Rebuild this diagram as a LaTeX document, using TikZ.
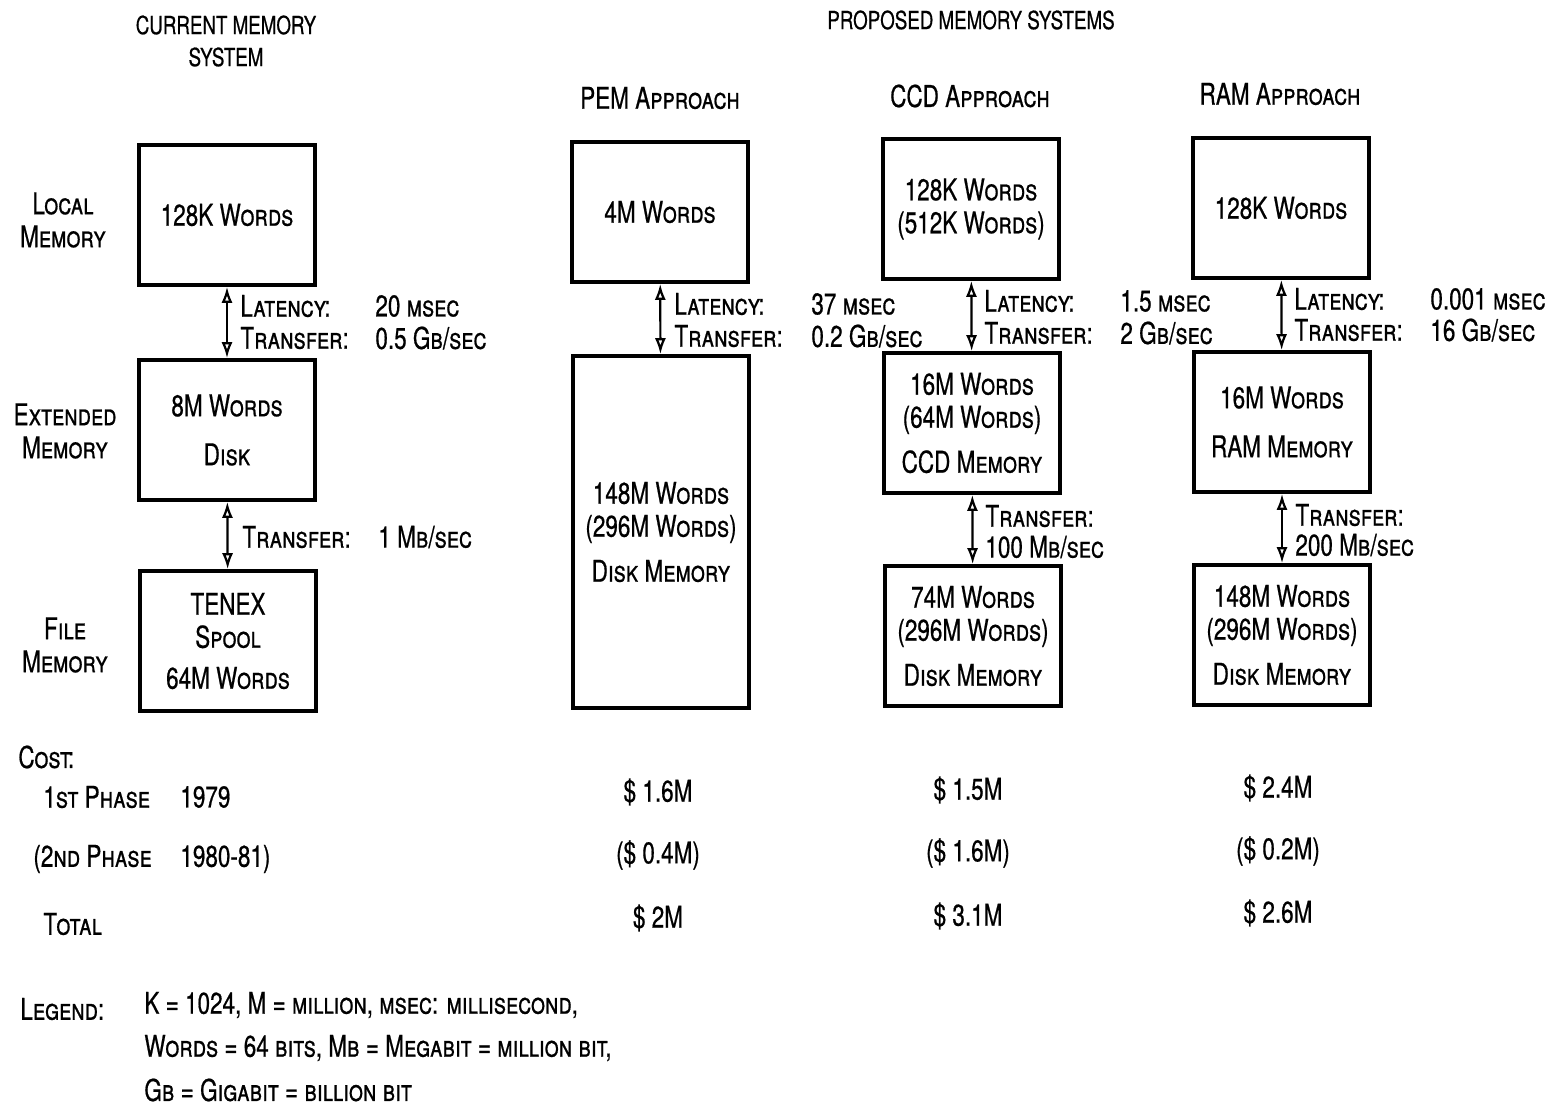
\documentclass[tikz,border=0pt]{standalone}
\usepackage{fontspec}
\setmainfont{TeX Gyre Heros}[FakeStretch=0.75, FakeBold=0.6]
\usetikzlibrary{arrows.meta}

\begin{document}
\begin{tikzpicture}[x=0.5pt, y=-0.5pt,
  every node/.style={font=\fontsize{15}{16.5}\selectfont},
  membox/.style={draw, line width=1.8pt, minimum width=88pt, minimum height=70pt, align=center, inner sep=0pt},
  txt/.style={anchor=west, inner sep=0pt},
  rowlbl/.style={align=center, inner sep=0pt},
  hdr/.style={align=center, inner sep=0pt, font=\fontsize{12.5}{16}\selectfont},
  link/.style={{Latex[open,length=8pt,width=5.5pt]}-{Latex[open,length=8pt,width=5.5pt]}, line width=1.1pt}]
  \useasboundingbox (0,0) rectangle (1564,1108);

  % 标题
  \node[hdr] (tcur) at (226,41) {CURRENT MEMORY\\SYSTEM};
  \node[hdr] (tprop) at (971,20) {PROPOSED MEMORY SYSTEMS};
  \node[inner sep=0pt] (tpem) at (660,98) {PEM \textsc{Approach}};
  \node[inner sep=0pt] (tccd) at (970,96) {CCD \textsc{Approach}};
  \node[inner sep=0pt] (tram) at (1280,94) {RAM \textsc{Approach}};

  % 行标签
  \node[rowlbl] (rlocal) at (63,220) {\textsc{Local}\\\textsc{Memory}};
  \node[rowlbl] (rext) at (65,431) {\textsc{Extended}\\\textsc{Memory}};
  \node[rowlbl] (rfile) at (65,645) {\textsc{File}\\\textsc{Memory}};

  % 当前系统
  \node[membox] (cl) at (227,215) {128K \textsc{Words}};
  \node[membox] (ce) at (227,430) {8M \textsc{Words}\\[8pt]\textsc{Disk}};
  \node[membox] (cf) at (228,641) {TENEX\\\textsc{Spool}\\[4pt]64M \textsc{Words}};
  \draw[link] (cl) -- (ce);
  \draw[link] (ce) -- (cf);
  \node[txt] (cl1) at (240,306) {\textsc{Latency:}};
  \node[txt] (cl2) at (375,306) {20 \textsc{msec}};
  \node[txt] (ct1) at (240,338) {\textsc{Transfer:}};
  \node[txt] (ct2) at (375,338) {0.5 \textsc{Gb/sec}};
  \node[txt] (ct3) at (242,537) {\textsc{Transfer:}};
  \node[txt] (ct4) at (378,537) {1 \textsc{Mb/sec}};

  % PEM
  \node[membox] (pl) at (660,212) {4M \textsc{Words}};
  \node[membox, minimum height=176pt] (pd) at (661,532) {148M \textsc{Words}\\(296M \textsc{Words})\\[6pt]\textsc{Disk Memory}};
  \draw[link] (pl) -- (pd);
  \node[txt] (pl1) at (674,304) {\textsc{Latency:}};
  \node[txt] (pl2) at (811,304) {37 \textsc{msec}};
  \node[txt] (pt1) at (674,336) {\textsc{Transfer:}};
  \node[txt] (pt2) at (811,336) {0.2 \textsc{Gb/sec}};

  % CCD
  \node[membox] (ql) at (971,209) {128K \textsc{Words}\\(512K \textsc{Words})};
  \node[membox] (qe) at (972,423) {16M \textsc{Words}\\(64M \textsc{Words})\\[6pt]CCD \textsc{Memory}};
  \node[membox] (qd) at (973,636) {74M \textsc{Words}\\(296M \textsc{Words})\\[6pt]\textsc{Disk Memory}};
  \draw[link] (ql) -- (qe);
  \draw[link] (qe) -- (qd);
  \node[txt] (ql1) at (984,301) {\textsc{Latency:}};
  \node[txt] (ql2) at (1120,301) {1.5 \textsc{msec}};
  \node[txt] (qt1) at (984,333) {\textsc{Transfer:}};
  \node[txt] (qt2) at (1120,333) {2 \textsc{Gb/sec}};
  \node[txt] (qt3) at (985,516) {\textsc{Transfer:}};
  \node[txt] (qt4) at (985,547) {100 \textsc{Mb/sec}};

  % RAM
  \node[membox] (rl) at (1281,208) {128K \textsc{Words}};
  \node[membox] (re) at (1282,422) {16M \textsc{Words}\\[8pt]RAM \textsc{Memory}};
  \node[membox] (rd) at (1282,635) {148M \textsc{Words}\\(296M \textsc{Words})\\[6pt]\textsc{Disk Memory}};
  \draw[link] (rl) -- (re);
  \draw[link] (re) -- (rd);
  \node[txt] (rl1) at (1294,299) {\textsc{Latency:}};
  \node[txt] (rl2) at (1430,299) {0.001 \textsc{msec}};
  \node[txt] (rt1) at (1294,330) {\textsc{Transfer:}};
  \node[txt] (rt2) at (1430,330) {16 \textsc{Gb/sec}};
  \node[txt] (rt3) at (1295,515) {\textsc{Transfer:}};
  \node[txt] (rt4) at (1295,545) {200 \textsc{Mb/sec}};

  % 费用
  \node[txt] (cost) at (18,757) {\textsc{Cost:}};
  \node[txt] (ph1) at (43,797) {\textsc{1st Phase}};
  \node[txt] (ph1y) at (180,797) {1979};
  \node[txt] (ph2) at (33,859) {(\textsc{2nd Phase}};
  \node[txt] (ph2y) at (180,859) {1980-81)};
  \node[txt] (tot) at (43,924) {\textsc{Total}};
  \node (pc1) at (658,792) {\$ 1.6M};
  \node (pc2) at (658,855) {(\$ 0.4M)};
  \node (pc3) at (658,918) {\$ 2M};
  \node (qc1) at (968,790) {\$ 1.5M};
  \node (qc2) at (968,853) {(\$ 1.6M)};
  \node (qc3) at (968,916) {\$ 3.1M};
  \node (rc1) at (1278,788) {\$ 2.4M};
  \node (rc2) at (1278,851) {(\$ 0.2M)};
  \node (rc3) at (1278,913) {\$ 2.6M};

  % 图例
  \node[txt] (leg) at (20,1009) {\textsc{Legend:}};
  \node[txt] (leg1) at (144,1005) {K = 1024, M = \textsc{million, msec: millisecond,}};
  \node[txt] (leg2) at (144,1048) {\textsc{Words = 64 bits, Mb = Megabit = million bit,}};
  \node[txt] (leg3) at (144,1090) {\textsc{Gb = Gigabit = billion bit}};
\end{tikzpicture}
\end{document}
